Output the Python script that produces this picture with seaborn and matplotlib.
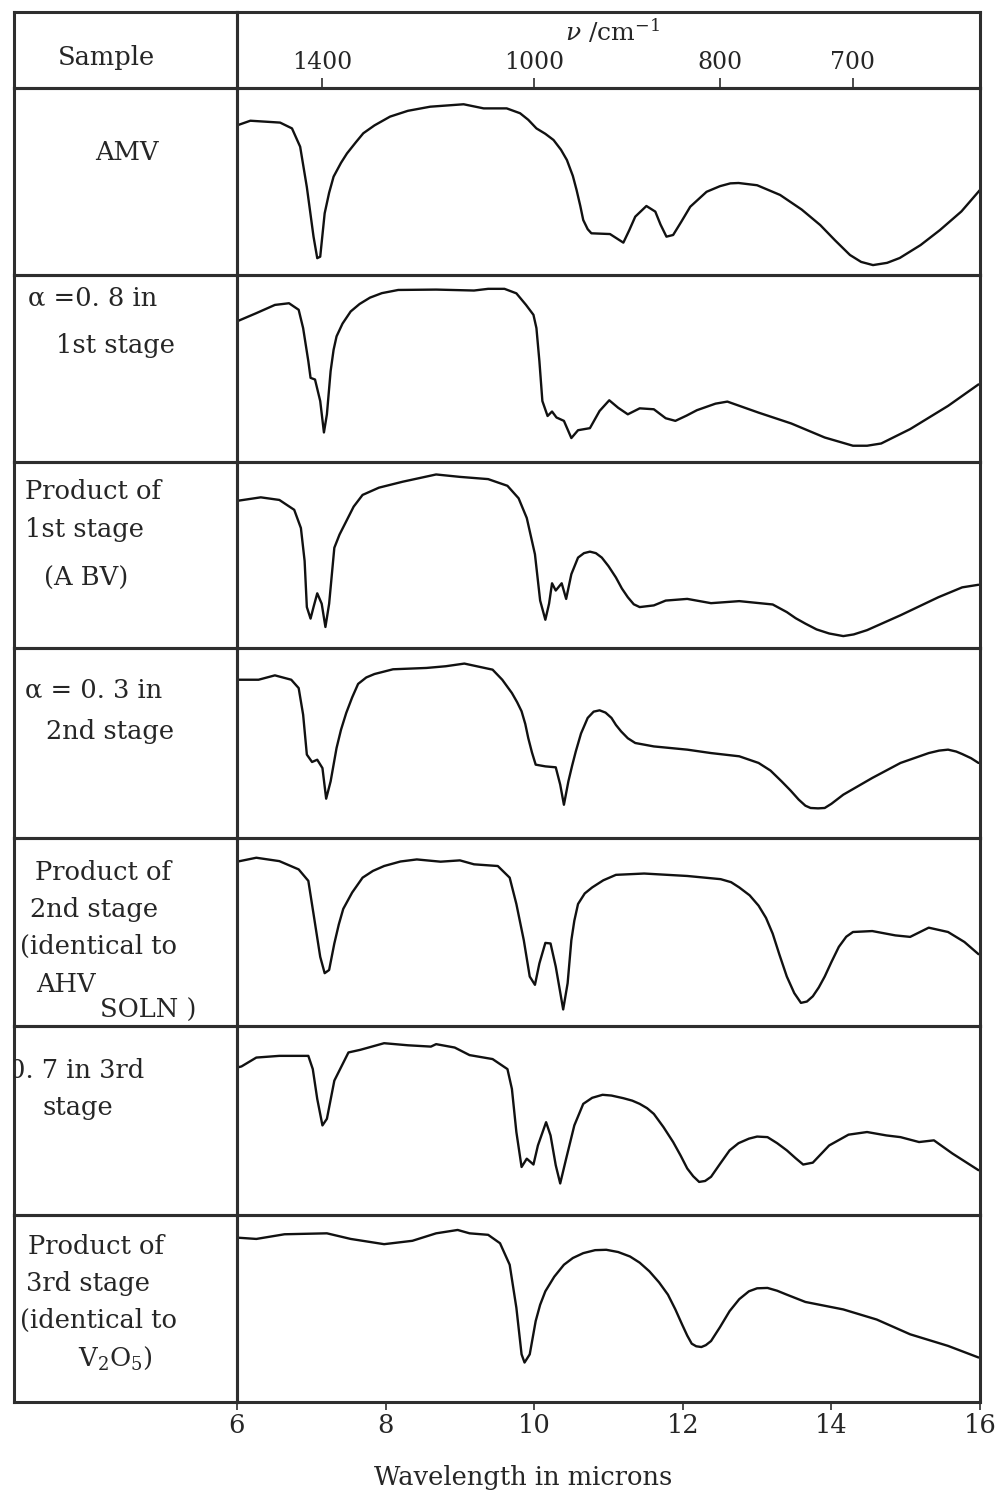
import matplotlib
matplotlib.use("Agg")
import matplotlib.pyplot as plt
import seaborn as sns
import pandas as pd

# ---------------------------------------------------------------- data
sample_labels = [
    ["AMV"],
    ["\u03b1 =0. 8 in", "1st stage"],
    ["Product of", "1st stage", "(A BV)"],
    ["\u03b1 = 0. 3 in", "2nd stage"],
    ["Product of", "2nd stage", "(identical to", "AHV", "SOLN )"],
    ["0. 7 in 3rd", "stage"],
    ["Product of", "3rd stage", "(identical to", "V$_2$O$_5$)"],
]

wavelength_ticks = [6, 8, 10, 12, 14, 16]
wavenumber_ticks = [1400, 1000, 800, 700]

amv_um = [6.00, 6.18, 6.58, 6.74, 6.85, 6.94, 7.03, 7.08, 7.12, 7.18, 7.24, 7.30,
          7.40, 7.48, 7.60, 7.70, 7.85, 8.06, 8.30, 8.60, 9.05, 9.32, 9.63, 9.81,
          9.92, 10.03, 10.15, 10.26, 10.36, 10.44, 10.52, 10.57, 10.62, 10.66,
          10.72, 10.77, 11.02, 11.20, 11.28, 11.36, 11.51, 11.63, 11.70, 11.78,
          11.87, 11.98, 12.10, 12.32, 12.50, 12.64, 12.75, 13.00, 13.31, 13.60,
          13.85, 14.05, 14.25, 14.40, 14.56, 14.75, 14.92, 15.20, 15.46, 15.75,
          16.00]
amv_T = [80.0, 82.5, 81.5, 78.4, 68.6, 47.0, 20.5, 9.0, 9.8, 33.0, 44.0, 52.6,
         60.0, 65.0, 71.0, 75.8, 80.0, 84.7, 87.8, 90.0, 91.3, 89.1, 89.1, 86.5,
         83.0, 78.4, 75.5, 72.2, 67.0, 61.5, 53.0, 45.5, 37.0, 29.4,
         24.5, 22.3, 21.9, 17.3, 24.0, 31.2, 36.9, 33.9, 27.0, 20.5,
         21.4, 28.5, 36.5, 44.5, 47.5, 49.0, 49.2, 48.0, 42.8, 35.0,
         26.7, 18.5, 10.7, 7.0, 5.3, 6.5, 9.1, 16.0, 24.0, 34.0,
         45.5]

s1a_um = [6.00, 6.26, 6.51, 6.70, 6.83, 6.89, 6.96, 6.99, 7.05, 7.12, 7.17, 7.21,
          7.26, 7.30, 7.34, 7.42, 7.53, 7.65, 7.79, 7.95, 8.17, 8.68, 9.19, 9.38,
          9.60, 9.76, 9.89, 9.99, 10.03, 10.07, 10.11, 10.18, 10.24, 10.30, 10.40,
          10.50, 10.59, 10.75, 10.88, 11.01, 11.13, 11.26, 11.42, 11.61, 11.77,
          11.90, 12.05, 12.19, 12.44, 12.60, 13.02, 13.46, 13.91, 14.29, 14.48,
          14.67, 15.06, 15.57, 15.98]
s1a_T = [75.2, 79.6, 84.0, 84.9, 81.4, 71.6, 53.9, 45.0, 44.1, 32.6, 15.8, 25.5,
         48.6, 60.0, 67.2, 74.0, 80.5, 84.5, 87.9, 90.3, 92.0, 92.2, 91.7, 92.6,
         92.6, 90.2, 84.0, 78.7, 71.6, 53.9, 32.6, 24.6, 27.0, 23.8, 22.0,
         12.8, 17.0, 18.1, 27.3, 33.0, 29.0, 25.5, 28.7, 28.2, 23.4,
         22.0, 24.8, 27.7, 31.2, 32.3, 26.4, 20.6, 13.1, 8.7, 8.7,
         9.9, 17.6, 30.0, 41.5]

abv_um = [6.00, 6.32, 6.57, 6.77, 6.86, 6.91, 6.94, 6.99, 7.03, 7.08, 7.14, 7.19,
          7.24, 7.31, 7.38, 7.47, 7.57, 7.69, 7.91, 8.23, 8.68, 9.00, 9.38, 9.64,
          9.79, 9.90, 10.01, 10.08, 10.15, 10.20, 10.24, 10.29, 10.37, 10.43,
          10.50, 10.59, 10.67, 10.75, 10.83, 10.91, 11.00, 11.10, 11.18, 11.26,
          11.34, 11.42, 11.61, 11.77, 12.06, 12.38, 12.76, 13.21, 13.40, 13.52,
          13.65, 13.80, 13.97, 14.16, 14.30, 14.48, 14.93, 15.44, 15.76, 15.98]
abv_T = [79.1, 81.0, 79.6, 74.3, 64.5, 46.8, 22.0, 15.8, 22.0, 29.4, 23.8, 11.3,
         23.8, 53.9, 61.0, 68.1, 76.0, 82.3, 86.2, 89.4, 93.3, 92.0, 90.8, 87.2,
         80.5, 69.9, 50.4, 25.5, 15.2, 23.8, 34.8, 30.9, 34.8, 26.4,
         39.7, 48.6, 51.0, 51.8, 51.0, 48.6, 44.0, 37.9, 32.0, 27.3,
         23.5, 22.0, 22.9, 25.5, 26.4, 24.1, 25.2, 23.4, 19.3, 16.0,
         13.1, 10.0, 7.8, 6.4, 7.3, 9.6, 17.6, 27.3, 32.6, 34.0]

s2a_um = [6.00, 6.29, 6.51, 6.73, 6.83, 6.89, 6.94, 7.01, 7.08, 7.15, 7.20, 7.26,
          7.34, 7.40, 7.47, 7.55, 7.63, 7.74, 7.85, 8.10, 8.55, 8.81, 9.06, 9.44,
          9.57, 9.70, 9.77, 9.83, 9.88, 9.92, 9.97, 10.02, 10.15, 10.29, 10.35,
          10.40, 10.46, 10.51, 10.56, 10.63, 10.72, 10.80, 10.88, 10.96, 11.04,
          11.10, 11.17, 11.26, 11.36, 11.61, 12.06, 12.38, 12.76, 13.02, 13.18,
          13.33, 13.45, 13.56, 13.65, 13.72, 13.82, 13.91, 14.00, 14.16, 14.55,
          14.93, 15.31, 15.45, 15.57, 15.68, 15.76, 15.88, 15.98]
s2a_T = [83.3, 83.3, 85.6, 83.3, 78.9, 64.9, 43.9, 40.0, 41.2, 36.8, 20.7, 29.8,
         47.4, 57.0, 65.8, 74.0, 81.1, 84.5, 86.3, 88.8, 89.5, 90.4, 91.8, 88.6,
         83.3, 76.3, 71.5, 66.7, 60.0, 52.6, 45.0, 38.6, 37.7, 37.2, 28.1,
         17.5, 29.8, 38.0, 45.6, 55.0, 63.2, 66.5, 67.2, 66.0, 63.2,
         59.5, 56.1, 52.5, 50.0, 48.2, 46.5, 44.7, 43.0, 39.5, 35.5,
         29.8, 25.0, 20.2, 17.0, 15.8, 15.6, 15.8, 18.0, 22.8, 31.6,
         39.5, 44.7, 46.0, 46.5, 45.5, 44.2, 42.0, 39.5]

ahv_um = [6.00, 6.26, 6.57, 6.83, 6.96, 7.03, 7.12, 7.18, 7.24, 7.31, 7.37, 7.43,
          7.55, 7.69, 7.83, 7.98, 8.20, 8.42, 8.74, 9.00, 9.19, 9.51, 9.67, 9.76,
          9.86, 9.94, 10.01, 10.07, 10.15, 10.22, 10.29, 10.39, 10.45, 10.50,
          10.54, 10.59, 10.68, 10.78, 10.93, 11.10, 11.48, 12.06, 12.51, 12.65,
          12.76, 12.90, 13.02, 13.12, 13.21, 13.30, 13.40, 13.50, 13.59, 13.67,
          13.75, 13.83, 13.91, 14.00, 14.10, 14.20, 14.29, 14.55, 14.86, 15.06,
          15.31, 15.57, 15.79, 15.98]
ahv_T = [87.4, 89.5, 87.7, 83.3, 77.2, 59.6, 36.8, 28.1, 29.8, 43.9, 54.0, 62.3,
         71.0, 78.9, 82.5, 85.1, 87.5, 88.6, 87.4, 88.1, 86.0, 85.1, 78.9, 64.9,
         45.6, 26.3, 21.9, 33.3, 44.2, 43.9, 31.6, 8.8, 22.8, 45.6,
         56.0, 64.9, 70.5, 73.7, 77.5, 80.4, 81.1, 79.8, 78.1, 76.5,
         73.7, 69.5, 64.0, 57.5, 49.1, 38.0, 26.3, 17.5, 12.3, 13.0,
         15.8, 20.5, 26.3, 34.0, 42.1, 47.5, 50.0, 50.5, 48.2, 47.4,
         52.3, 50.0, 44.7, 38.2]

s3a_um = [6.00, 6.06, 6.26, 6.57, 6.96, 7.02, 7.08, 7.15, 7.21, 7.31, 7.50, 7.66,
          7.98, 8.30, 8.61, 8.68, 8.93, 9.13, 9.44, 9.64, 9.70, 9.76, 9.83, 9.90,
          9.99, 10.05, 10.16, 10.22, 10.29, 10.35, 10.43, 10.54, 10.66, 10.78,
          10.92, 11.04, 11.20, 11.32, 11.42, 11.52, 11.61, 11.74, 11.87, 11.97,
          12.06, 12.14, 12.22, 12.30, 12.38, 12.50, 12.63, 12.75, 12.89, 13.00,
          13.14, 13.27, 13.40, 13.52, 13.62, 13.75, 13.97, 14.23, 14.48, 14.74,
          14.93, 15.18, 15.38, 15.63, 15.98]
s3a_T = [78.0, 78.6, 83.3, 84.2, 84.2, 77.2, 61.4, 47.4, 50.9, 71.1, 86.0, 87.4,
         90.9, 89.8, 89.1, 90.4, 88.6, 84.6, 82.5, 77.2, 66.7, 43.9, 25.4, 29.8,
         26.7, 36.8, 49.1, 42.1, 26.3, 16.7, 29.8, 47.4, 58.8, 62.0,
         63.6, 63.2, 61.8, 60.5, 58.8, 56.5, 53.5, 46.5, 38.6, 31.5,
         24.6, 20.5, 17.5, 18.0, 20.2, 27.0, 34.2, 38.0, 40.4, 41.5,
         41.2, 38.0, 34.2, 30.0, 26.7, 27.7, 36.8, 42.5, 43.9, 42.1,
         41.2, 38.6, 39.5, 32.5, 23.7]

v2o5_um = [6.00, 6.26, 6.64, 7.21, 7.53, 7.98, 8.36, 8.68, 8.97, 9.13, 9.38, 9.54,
           9.67, 9.76, 9.83, 9.87, 9.94, 10.02, 10.08, 10.15, 10.27, 10.40, 10.52,
           10.66, 10.82, 10.97, 11.13, 11.29, 11.42, 11.55, 11.68, 11.80, 11.90,
           11.99, 12.06, 12.12, 12.18, 12.25, 12.31, 12.38, 12.50, 12.63, 12.76,
           12.89, 13.00, 13.14, 13.27, 13.40, 13.65, 14.16, 14.61, 15.06, 15.57,
           15.98]
v2o5_T = [87.9, 87.2, 89.7, 90.2, 87.2, 84.4, 86.2, 90.2, 92.0, 90.2, 89.4, 84.9,
          73.4, 50.4, 25.5, 21.1, 25.5, 43.3, 52.0, 59.2, 67.0, 73.4, 77.0,
          79.6, 81.2, 81.4, 80.2, 77.8, 74.5, 69.9, 64.0, 57.4, 49.5,
          41.5, 35.5, 31.2, 29.8, 29.4, 30.4, 32.6, 40.0, 48.6, 55.0,
          59.2, 60.8, 61.0, 59.5, 57.4, 53.5, 49.5, 44.1, 36.2, 30.0,
          23.8]

spectra = [
    (amv_um, amv_T),
    (s1a_um, s1a_T),
    (abv_um, abv_T),
    (s2a_um, s2a_T),
    (ahv_um, ahv_T),
    (s3a_um, s3a_T),
    (v2o5_um, v2o5_T),
]

# ---------------------------------------------------------------- layout
sns.set_theme(style="white")
plt.rcParams["font.family"] = ["DejaVu Serif"]
plt.rcParams["mathtext.fontset"] = "dejavuserif"

W, H = 1003, 1498
fig = plt.figure(figsize=(W / 100, H / 100), dpi=100)
fig.patch.set_facecolor("white")

LEFT, MID, RIGHT = 14, 237, 980
row_edges = [12, 88, 275, 462, 648, 838, 1026, 1215, 1402]
RULE = "#2e2e2e"
TEXT = "#262626"
FS = 18.5


def box(x0, x1, y0, y1):
    ax = fig.add_axes([x0 / W, 1 - y1 / H, (x1 - x0) / W, (y1 - y0) / H])
    ax.set_xticks([])
    ax.set_yticks([])
    ax.set_facecolor("none")
    for sp in ax.spines.values():
        sp.set_color(RULE)
        sp.set_linewidth(2.2)
    return ax


def px_text(x, y, s, **kw):
    kw.setdefault("fontsize", FS)
    kw.setdefault("color", TEXT)
    kw.setdefault("va", "center")
    kw.setdefault("ha", "left")
    fig.text(x / W, 1 - y / H, s, **kw)


# header row: sample column title and wavenumber scale
hl = box(LEFT, MID, row_edges[0], row_edges[1])
hr = box(MID, RIGHT, row_edges[0], row_edges[1])
hr.set_xlim(6, 16)
hr.set_ylim(0, 1)
wn_pos = [1e4 / v for v in wavenumber_ticks]
hr.set_xticks(wn_pos)
hr.tick_params(axis="x", direction="in", length=7, width=1.2, color=RULE,
               bottom=True, labelbottom=False)
for p, v in zip(wn_pos, wavenumber_ticks):
    hr.text(p, 0.34, str(v), ha="center", va="center", fontsize=FS - 1.5,
            color=TEXT, transform=hr.get_xaxis_transform())
hr.text(0.505, 0.74, r"$\nu$ /cm$^{-1}$", transform=hr.transAxes,
        ha="center", va="center", fontsize=FS - 0.5, color=TEXT)
px_text(107, 57, "Sample", ha="center")

# label cells and spectra rows
label_pos = [
    [(127, 152, "center")],
    [(28, 298, "left"), (56, 345, "left")],
    [(25, 492, "left"), (25, 530, "left"), (44, 578, "left")],
    [(25, 690, "left"), (46, 732, "left")],
    [(35, 873, "left"), (30, 910, "left"), (20, 946, "left"),
     (36, 985, "left"), (100, 1010, "left")],
    [(9, 1070, "left"), (42, 1107, "left")],
    [(28, 1246, "left"), (26, 1284, "left"), (20, 1320, "left"),
     (78, 1358, "left")],
]

for i, ((um, T), lines, pos) in enumerate(zip(spectra, sample_labels, label_pos)):
    y0, y1 = row_edges[i + 1], row_edges[i + 2]
    la = box(LEFT, MID, y0, y1)
    for s, (x, y, ha) in zip(lines, pos):
        la.text(x / W, 1 - y / H, s, transform=fig.transFigure, ha=ha,
                va="center", fontsize=FS, color=TEXT, clip_on=True)
    ax = box(MID, RIGHT, y0, y1)
    df = pd.DataFrame({"um": um, "T": T})
    sns.lineplot(data=df, x="um", y="T", ax=ax, color="#111111",
                 linewidth=1.7, sort=False, estimator=None)
    ax.set_xlim(6, 16)
    ax.set_ylim(0, 100)
    ax.set_xlabel("")
    ax.set_ylabel("")
    ax.set_xticks([])
    ax.set_yticks([])
    if i == len(spectra) - 1:
        ax.set_xticks(wavelength_ticks)
        ax.set_xticklabels([str(v) for v in wavelength_ticks])
        ax.tick_params(axis="x", direction="out", length=6, width=1.2,
                       color=RULE, bottom=True, labelsize=FS, labelcolor=TEXT,
                       pad=2)

px_text(523, 1478, "Wavelength in microns", ha="center", fontsize=FS)

fig.savefig("out.png", dpi=100, facecolor="white")
